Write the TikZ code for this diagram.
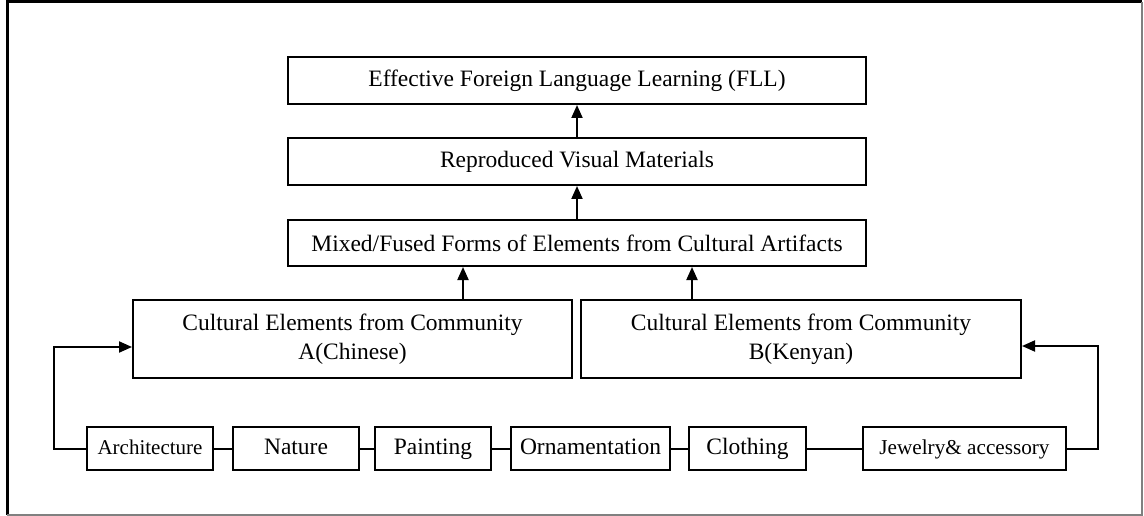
\documentclass[tikz,border=0pt]{standalone}
\usepackage{fontspec}
\setmainfont{Liberation Serif}
\usetikzlibrary{arrows.meta,positioning,calc}

\tikzset{
  box/.style={draw,line width=2pt,inner sep=0pt,align=center,
    font=\fontsize{23.5}{29}\selectfont},
  item/.style={box,minimum height=43,text height=16pt,text depth=5pt},
  arr/.style={line width=2pt,-{Triangle[length=13pt,width=11pt]}},
  link/.style={line width=2pt}
}

\begin{document}
\begin{tikzpicture}[x=1pt,y=-1pt]
      \useasboundingbox (0,0) rectangle (1144,516);
      % frame
      \draw[line width=3pt] (7,515) -- (7,2) -- (1142,2);
      \draw[gray,line width=1.2pt] (1142,2) -- (1142,515) -- (7,515);
      % upper chain
      \node[box,minimum width=578,minimum height=47] (fll) at (577,80.5)
        {Effective Foreign Language Learning (FLL)};
      \node[box,minimum width=578,minimum height=47] (rvm) at (577,161.5)
        {Reproduced Visual Materials};
      \node[box,minimum width=578,minimum height=46] (mix) at (577,243)
        {Mixed/Fused Forms of Elements from Cultural Artifacts};
      \draw[arr] (rvm.north) -- (fll.south);
      \draw[arr] (mix.north) -- (rvm.south);
      % communities
      \node[box,minimum width=439,minimum height=78] (comA) at (352.5,339)
        {Cultural Elements from Community\\A(Chinese)};
      \node[box,minimum width=440,minimum height=78] (comB) at (801,339)
        {Cultural Elements from Community\\B(Kenyan)};
      \draw[arr] ([xshift=110.5]comA.north) -- ([xshift=110.5]comA.north |- mix.south);
      \draw[arr] ([xshift=-109]comB.north) -- ([xshift=-109]comB.north |- mix.south);
      % elements
      \node[item,minimum width=126,font=\fontsize{21}{25}\selectfont] (arch) at (150,448.5) {Architecture};
      \node[item,minimum width=126] (nat) at (296,448.5) {Nature};
      \node[item,minimum width=116] (pai) at (433,448.5) {Painting};
      \node[item,minimum width=159] (orn) at (590.5,448.5) {Ornamentation};
      \node[item,minimum width=117] (clo) at (747.5,448.5) {Clothing};
      \node[item,minimum width=203,font=\fontsize{21.2}{25}\selectfont] (jew) at (964.5,448.5) {Jewelry\& accessory};
      \foreach \a/\b in {arch/nat, nat/pai, pai/orn, orn/clo, clo/jew}{
        \draw[link] (\a.east) -- (\b.west);
      }
      \coordinate (lft) at (54,347);
      \coordinate (rgt) at (1098,346);
      \draw[arr] (arch.west) -| (lft) -- (lft -| comA.west);
      \draw[arr] (jew.east) -| (rgt) -- (rgt -| comB.east);
    \end{tikzpicture}
\end{document}
